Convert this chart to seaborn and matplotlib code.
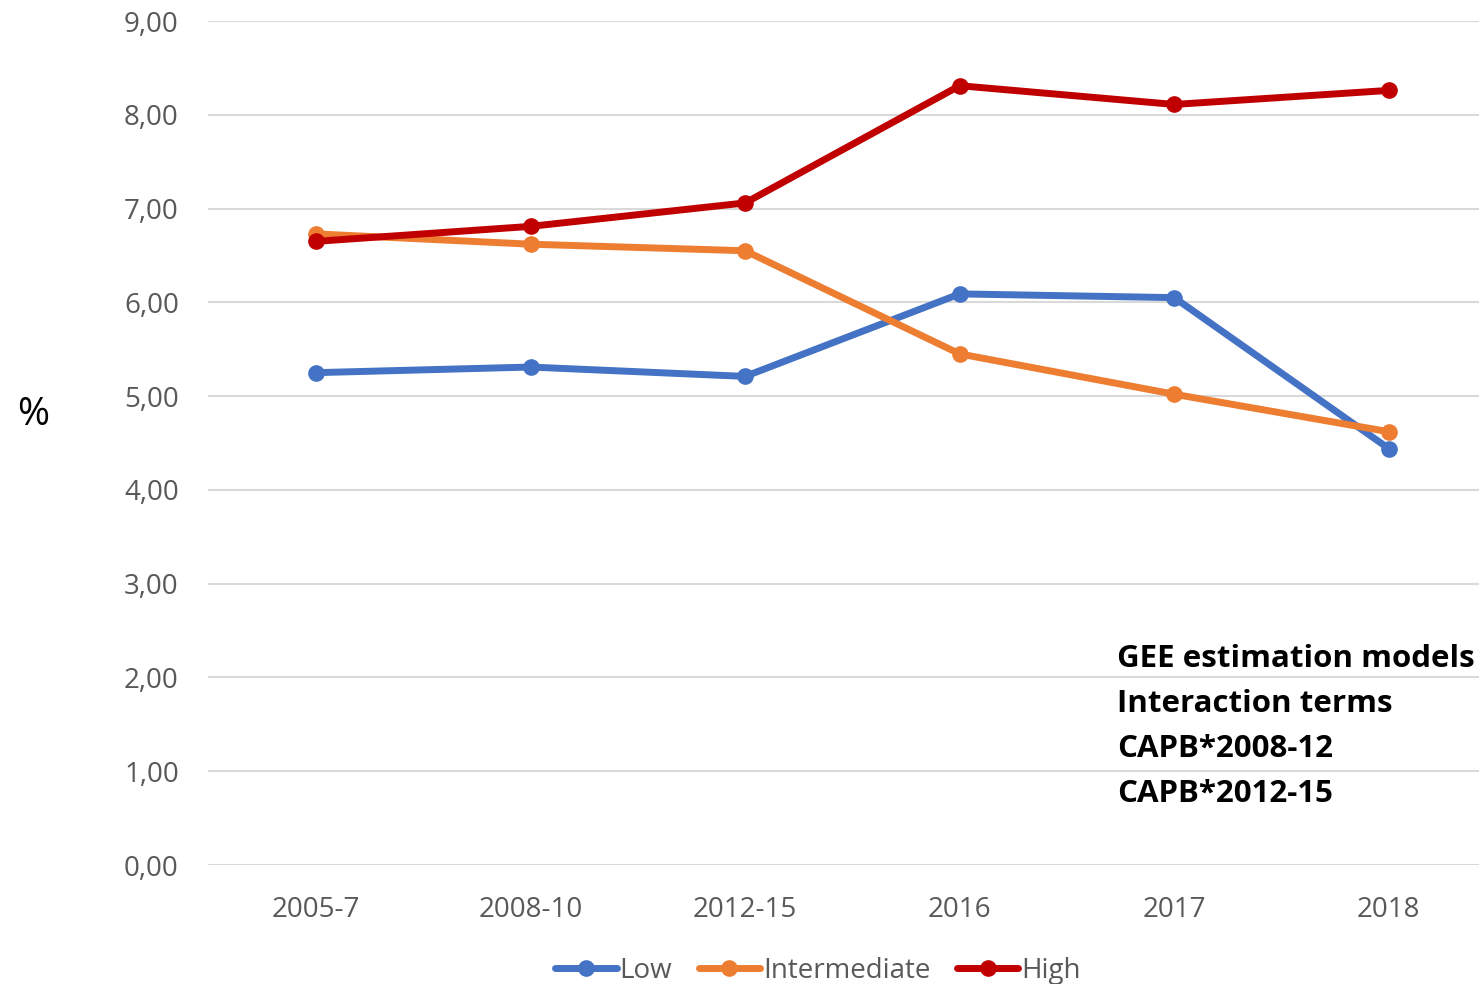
import matplotlib
matplotlib.use("Agg")
import matplotlib.pyplot as plt
import seaborn as sns
import pandas as pd
from matplotlib.ticker import FuncFormatter

periods = ["2005-7", "2008-10", "2012-15", "2016", "2017", "2018"]
low = [5.25, 5.31, 5.21, 6.09, 6.05, 4.44]
intermediate = [6.73, 6.62, 6.55, 5.45, 5.02, 4.62]
high = [6.65, 6.81, 7.06, 8.31, 8.11, 8.26]
series_names = ["Low", "Intermediate", "High"]
colors = ["#4472C4", "#ED7D31", "#C00000"]
annotation_lines = ["GEE estimation models", "Interaction terms",
                    "CAPB*2008-12", "CAPB*2012-15"]

rows = []
for name, vals in zip(series_names, [low, intermediate, high]):
    for i, (p, v) in enumerate(zip(periods, vals)):
        rows.append({"period": p, "idx": i, "value": v, "series": name})
df = pd.DataFrame(rows)

sns.set_theme(style="white")
plt.rcParams["font.family"] = ["Open Sans", "DejaVu Sans"]

fig = plt.figure(figsize=(14.79, 9.84), dpi=100)
ax = fig.add_axes([208/1479, 1 - 865/984, 1 - 208/1479, (865 - 21)/984])

sns.lineplot(data=df, x="idx", y="value", hue="series", hue_order=series_names,
             palette=colors, marker="o", markersize=12, markeredgewidth=0,
             linewidth=5, ax=ax, legend=True)

ax.set_xlim(-0.503, 5.42)
ax.set_ylim(0, 9)
ax.set_yticks(range(0, 10))
ax.yaxis.set_major_formatter(FuncFormatter(lambda v, _: f"{v:.2f}".replace(".", ",")))
ax.set_xticks(range(len(periods)))
ax.set_xticklabels(periods)
ax.grid(axis="y", color="#D9D9D9", linewidth=1.5)
ax.set_axisbelow(True)
for s in ax.spines.values():
    s.set_visible(False)
ax.tick_params(axis="y", length=0, pad=21, labelsize=20, labelcolor="#595959")
ax.tick_params(axis="x", length=0, pad=22, labelsize=20, labelcolor="#595959")
ax.set_xlabel("")
ax.set_ylabel("")

fig.text(33/1479, 1 - 415/984, "%", fontsize=28, color="black", ha="center", va="center")

for i, line in enumerate(annotation_lines):
    fig.text(1117/1479, 1 - (659 + 45*i)/984, line, fontsize=22.5, fontweight="bold",
             color="black", ha="left", va="center")

handles, labels = ax.get_legend_handles_labels()
ax.legend(handles, labels, loc="center", bbox_to_anchor=(818/1479, 1 - 971/984),
          bbox_transform=fig.transFigure, ncol=3, frameon=False, fontsize=20,
          labelcolor="#595959", handlelength=2.2, handletextpad=0.1,
          columnspacing=0.97, borderpad=0)

fig.savefig("out.png", dpi=100)
